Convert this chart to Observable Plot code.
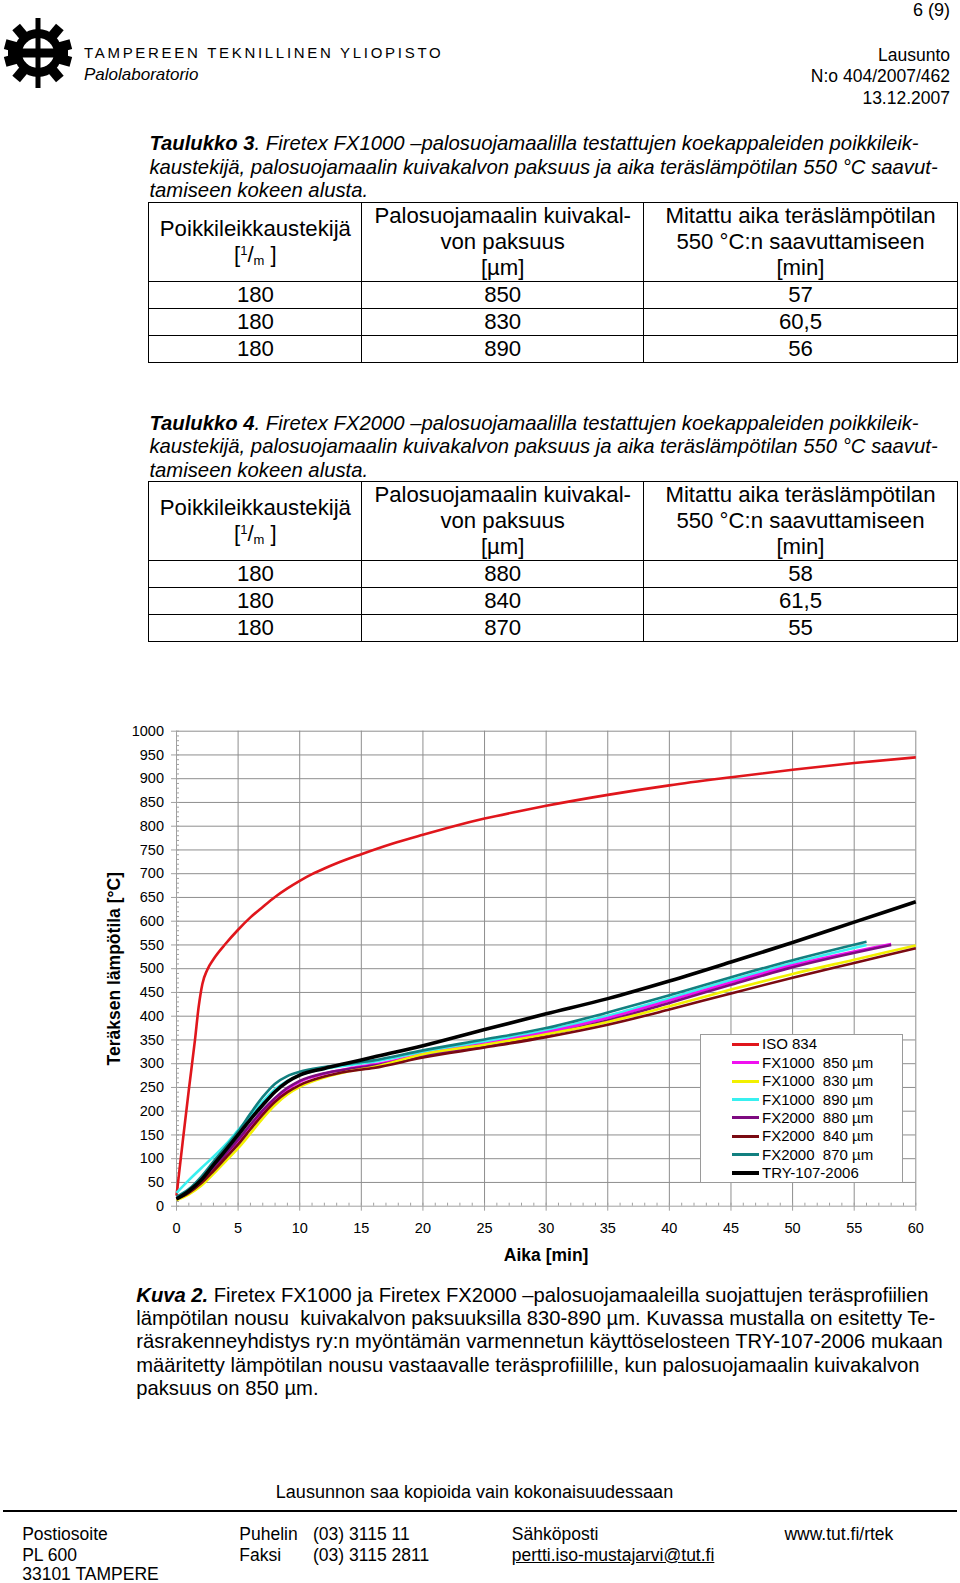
<!DOCTYPE html>
<html><head><meta charset="utf-8">
<script src="https://cdn.jsdelivr.net/npm/d3@7"></script>
<script src="https://cdn.jsdelivr.net/npm/@observablehq/plot@0.6"></script>
<style>
body{margin:0;background:#fff;font-family:"Liberation Sans",Arial,Helvetica,sans-serif;color:#000;}
#page{position:relative;width:960px;height:1583px;overflow:hidden;background:#fff;}
.t{position:absolute;white-space:pre;}
table.tb{position:absolute;border-collapse:collapse;table-layout:fixed;width:808.6px;font-size:22.2px;}
table.tb td{border:1px solid #000;text-align:center;vertical-align:middle;padding:0;line-height:26px;}
table.tb sup{font-size:13px;line-height:0;vertical-align:7px;}
table.tb sub{font-size:13px;line-height:0;vertical-align:-3px;}
#chart{position:absolute;left:0;top:700px;}
#legend{position:absolute;left:700px;top:1034px;width:201px;height:147px;border:1px solid #9a9a9a;background:#fff;}
#legend .sw{position:absolute;left:31px;width:27px;}
#legend .lt{position:absolute;left:61px;font-size:15px;line-height:18px;white-space:pre;}
</style></head>
<body><div id="page">
<svg width="70" height="70" viewBox="-35 -35 70 70" style="position:absolute;left:3px;top:18px">
  <g fill="#000">
    <circle r="24"/>
    <rect x="-5" y="-34" width="10" height="14" transform="rotate(40)"/>
    <rect x="-5" y="-34" width="10" height="14" transform="rotate(75)"/>
    <rect x="-5" y="-34" width="10" height="14" transform="rotate(105)"/>
    <rect x="-5" y="-34" width="10" height="14" transform="rotate(140)"/>
    <rect x="-5" y="-34" width="10" height="14" transform="rotate(-40)"/>
    <rect x="-5" y="-34" width="10" height="14" transform="rotate(-75)"/>
    <rect x="-5" y="-34" width="10" height="14" transform="rotate(-105)"/>
    <rect x="-5" y="-34" width="10" height="14" transform="rotate(-140)"/>
    <rect x="-2.5" y="-35" width="5" height="70"/>
  </g>
  <ellipse rx="16" ry="15" fill="#fff"/>
  <rect x="-2.5" y="-16" width="5" height="32" fill="#000"/>
  <rect x="-30" y="-4.5" width="60" height="9" fill="#000"/>
</svg>
</div>
<script>
// ---------- data ----------
const tableColumns = ["Poikkileikkaustekijä<br>[<sup>1</sup>/<sub>m</sub> ]", "Palosuojamaalin kuivakal-<br>von paksuus<br>[µm]", "Mitattu aika teräslämpötilan<br>550 °C:n saavuttamiseen<br>[min]"];
const t3Factor = ["180", "180", "180"];
const t3Thickness = ["850", "830", "890"];
const t3Time = ["57", "60,5", "56"];
const t4Factor = ["180", "180", "180"];
const t4Thickness = ["880", "840", "870"];
const t4Time = ["58", "61,5", "55"];

const xTicks = [0, 5, 10, 15, 20, 25, 30, 35, 40, 45, 50, 55, 60];
const yTicks = [0, 50, 100, 150, 200, 250, 300, 350, 400, 450, 500, 550, 600, 650, 700, 750, 800, 850, 900, 950, 1000];

const isoT = [0, 0.5, 1, 1.5, 1.8, 2.1, 2.5, 3, 4, 5, 6, 7, 8, 9, 10, 11, 12, 13, 15, 17.5, 20, 22.5, 25, 27.5, 30, 35, 40, 45, 50, 55, 60];
const isoV = [22, 135, 245, 350, 420, 468, 498, 520, 553, 582, 608, 630, 651, 669, 685, 699, 711, 722, 741, 763, 782, 800, 816, 830, 843, 866, 886, 903, 919, 933, 945];

const steelT = [0, 1, 2, 3, 4, 5, 6, 7, 8, 9, 10, 12, 14, 16, 20, 25, 30, 35, 40, 45, 50];
const fx1000_850T = [...steelT, 58];
const fx1000_850V = [18, 30, 50, 77, 105, 135, 166, 197, 224, 246, 262, 279, 290, 298, 320, 342, 366, 396, 433, 471, 507, 552];
const fx1000_830T = [...steelT, 55, 60];
const fx1000_830V = [13, 25, 43, 68, 95, 122, 153, 185, 213, 235, 251, 271, 284, 293, 320, 340, 362, 388, 421, 456, 489, 519, 549];
const fx1000_890T = [...steelT, 56];
const fx1000_890V = [28, 55, 80, 104, 130, 160, 190, 220, 246, 264, 276, 289, 297, 304, 325, 347, 370, 401, 438, 476, 512, 550];
const fx2000_880T = [...steelT, 58];
const fx2000_880V = [17, 30, 52, 80, 110, 140, 172, 202, 228, 249, 264, 280, 289, 296, 317, 338, 361, 391, 428, 466, 503, 550];
const fx2000_840T = [...steelT, 55, 60];
const fx2000_840V = [15, 28, 48, 74, 102, 130, 162, 193, 220, 240, 255, 273, 284, 291, 313, 334, 356, 382, 414, 448, 481, 512, 543];
const fx2000_870T = [...steelT, 56];
const fx2000_870V = [20, 36, 62, 94, 125, 157, 195, 230, 258, 274, 283, 293, 300, 307, 328, 351, 375, 408, 444, 482, 518, 557];
const tryT = [...steelT, 55, 60];
const tryV = [15, 32, 55, 87, 118, 150, 183, 213, 241, 262, 276, 290, 302, 314, 338, 372, 405, 437, 474, 514, 555, 598, 641];

const seriesNames = ["ISO 834", "FX1000  850 µm", "FX1000  830 µm", "FX1000  890 µm", "FX2000  880 µm", "FX2000  840 µm", "FX2000  870 µm", "TRY-107-2006"];
const seriesColors = ["#e0161c", "#f010f0", "#f2f000", "#38f0f0", "#7e0a80", "#7a0a12", "#128080", "#000000"];
const seriesWidths = [2.6, 2.6, 2.6, 2.6, 2.6, 2.6, 2.6, 3.6];
const seriesT = [isoT, fx1000_850T, fx1000_830T, fx1000_890T, fx2000_880T, fx2000_840T, fx2000_870T, tryT];
const seriesV = [isoV, fx1000_850V, fx1000_830V, fx1000_890V, fx2000_880V, fx2000_840V, fx2000_870V, tryV];
const drawOrder = [0, 3, 1, 4, 2, 5, 6, 7];

// ---------- page text ----------
const page = document.getElementById("page");
function txt(x, cy, html, o = {}) {
  const d = document.createElement("div");
  d.className = "t";
  const size = o.size || 18, lh = o.lh || Math.round(size * 1.3);
  d.style.fontSize = size + "px";
  d.style.lineHeight = lh + "px";
  d.style.top = (cy - lh / 2) + "px";
  if (o.align === "right") d.style.right = (960 - x) + "px";
  else if (o.align === "center") { d.style.left = x + "px"; d.style.transform = "translateX(-50%)"; }
  else d.style.left = x + "px";
  if (o.italic) d.style.fontStyle = "italic";
  if (o.bold) d.style.fontWeight = "bold";
  if (o.ls) d.style.letterSpacing = o.ls + "px";
  if (o.deco) d.style.textDecoration = o.deco;
  d.innerHTML = html;
  page.appendChild(d);
}
txt(950, 10, "6 (9)", {size: 18, align: "right"});
txt(84, 52.5, "TAMPEREEN TEKNILLINEN YLIOPISTO", {size: 15, ls: 2.7});
txt(84, 74.7, "Palolaboratorio", {size: 17, italic: true});
txt(950, 55.5, "Lausunto", {size: 17.5, align: "right"});
txt(950, 76.7, "N:o 404/2007/462", {size: 17.5, align: "right"});
txt(950, 98, "13.12.2007", {size: 17.5, align: "right"});

const capSize = 20.3;
function caption(top, num, paint) {
  txt(149.4, top, `<b>Taulukko ${num}</b>. Firetex ${paint} –palosuojamaalilla testattujen koekappaleiden poikkileik-`, {size: capSize, italic: true, lh: 24});
  txt(149.4, top + 23.4, "kaustekijä, palosuojamaalin kuivakalvon paksuus ja aika teräslämpötilan 550 °C saavut-", {size: capSize, italic: true, lh: 24});
  txt(149.4, top + 46.8, "tamiseen kokeen alusta.", {size: capSize, italic: true, lh: 24});
}
function makeTable(top, f, th, tm) {
  const t = document.createElement("table");
  t.className = "tb";
  t.style.left = "148.4px";
  t.style.top = top + "px";
  let h = `<colgroup><col style="width:213px"><col style="width:281.6px"><col style="width:314px"></colgroup>`;
  h += `<tr style="height:78.6px">${tableColumns.map(c => `<td>${c}</td>`).join("")}</tr>`;
  for (let i = 0; i < f.length; i++) h += `<tr style="height:26.2px"><td>${f[i]}</td><td>${th[i]}</td><td>${tm[i]}</td></tr>`;
  t.innerHTML = h;
  page.appendChild(t);
}
caption(143.4, 3, "FX1000");
makeTable(202, t3Factor, t3Thickness, t3Time);
caption(423, 4, "FX2000");
makeTable(480.6, t4Factor, t4Thickness, t4Time);

const kuva = [
  "<b><i>Kuva 2.</i></b> Firetex FX1000 ja Firetex FX2000 –palosuojamaaleilla suojattujen teräsprofiilien",
  "lämpötilan nousu  kuivakalvon paksuuksilla 830-890 µm. Kuvassa mustalla on esitetty Te-",
  "räsrakenneyhdistys ry:n myöntämän varmennetun käyttöselosteen TRY-107-2006 mukaan",
  "määritetty lämpötilan nousu vastaavalle teräsprofiilille, kun palosuojamaalin kuivakalvon",
  "paksuus on 850 µm."
];
kuva.forEach((l, i) => txt(136.3, 1295 + i * 23.2, l, {size: 20.2, lh: 24}));

txt(474.5, 1492, "Lausunnon saa kopioida vain kokonaisuudessaan", {size: 18, align: "center"});
const hr = document.createElement("div");
hr.style.cssText = "position:absolute;left:3px;top:1510px;width:954px;height:2px;background:#000;";
page.appendChild(hr);
txt(22.2, 1534.5, "Postiosoite", {size: 17.5});
txt(22.2, 1555.6, "PL 600", {size: 17.5});
txt(22.2, 1573.5, "33101 TAMPERE", {size: 17.5, lh: 16});
txt(239.3, 1534.5, "Puhelin", {size: 17.5});
txt(313, 1534.5, "(03) 3115 11", {size: 17.5});
txt(239.3, 1555.6, "Faksi", {size: 17.5});
txt(313, 1555.6, "(03) 3115 2811", {size: 17.5});
txt(511.8, 1534.5, "Sähköposti", {size: 17.5});
txt(511.8, 1555.6, "pertti.iso-mustajarvi@tut.fi", {size: 17.5, deco: "underline"});
txt(784.4, 1534.5, "www.tut.fi/rtek", {size: 17.5});

// ---------- chart ----------
const W = 960, H = 580, ML = 176, MR = 44.7, MT = 30.7, MB = 74.3;
const innerW = W - ML - MR, innerH = H - MT - MB;
const xMinor = d3.range(0, 61, 1);
const yMinor = d3.range(0, 1001, 10);
const gridColor = "#8e8e8e";

const lineMarks = drawOrder.map(i => {
  const rows = seriesT[i].map((t, j) => ({t, v: seriesV[i][j]}));
  return Plot.line(rows, {x: "t", y: "v", stroke: seriesColors[i], strokeWidth: seriesWidths[i], curve: "monotone-x", strokeLinecap: "butt"});
});

const chart = Plot.plot({
  width: W, height: H,
  marginLeft: ML, marginRight: MR, marginTop: MT, marginBottom: MB,
  x: {domain: [0, 60], label: null},
  y: {domain: [0, 1000], label: null},
  style: {fontFamily: "'Liberation Sans', Arial, sans-serif", fontSize: "14.5px", color: "#000", background: "transparent"},
  marks: [
    Plot.gridX(xTicks.filter(d => d > 0), {stroke: gridColor, strokeOpacity: 1}),
    Plot.gridY(yTicks.filter(d => d > 0), {stroke: gridColor, strokeOpacity: 1}),
    Plot.ruleY(yMinor, {stroke: "#a0a0a0", insetRight: innerW - 3}),
    Plot.ruleX(xMinor, {stroke: "#a0a0a0", insetTop: innerH - 3}),
    Plot.ruleY(yTicks, {stroke: "#a0a0a0", insetLeft: -5, insetRight: innerW}),
    Plot.ruleX(xTicks, {stroke: "#a0a0a0", insetBottom: -5, insetTop: innerH}),
    Plot.ruleX([0], {stroke: "#a0a0a0"}),
    Plot.ruleY([0], {stroke: "#a0a0a0"}),
    Plot.axisY(yTicks, {tickSize: 0, tickPadding: 12.5, fill: "#000", label: null, tickFormat: d => String(d)}),
    Plot.axisX(xTicks, {tickSize: 0, tickPadding: 17, fill: "#000", label: null, tickFormat: d => String(d)}),
    ...lineMarks,
    Plot.text(["Teräksen lämpötila [°C]"], {frameAnchor: "left", dx: -62, rotate: -90, fontWeight: "bold", fontSize: 17.5, textAnchor: "middle", lineAnchor: "middle", fill: "#000"}),
    Plot.text(["Aika [min]"], {frameAnchor: "bottom", dy: 49.5, fontWeight: "bold", fontSize: 17.5, textAnchor: "middle", lineAnchor: "middle", fill: "#000"})
  ]
});
const wrap = document.createElement("div");
wrap.id = "chart";
wrap.appendChild(chart);
page.appendChild(wrap);

// legend
const lg = document.createElement("div");
lg.id = "legend";
seriesNames.forEach((n, i) => {
  const cy = 9.3 + 18.4 * i;
  const sw = document.createElement("div");
  sw.className = "sw";
  const th = seriesWidths[i] + 0.4;
  sw.style.top = (cy - th / 2) + "px";
  sw.style.height = th + "px";
  sw.style.background = seriesColors[i];
  lg.appendChild(sw);
  const t = document.createElement("div");
  t.className = "lt";
  t.style.top = (cy - 9) + "px";
  t.textContent = n;
  lg.appendChild(t);
});
page.appendChild(lg);
</script>
</body></html>
